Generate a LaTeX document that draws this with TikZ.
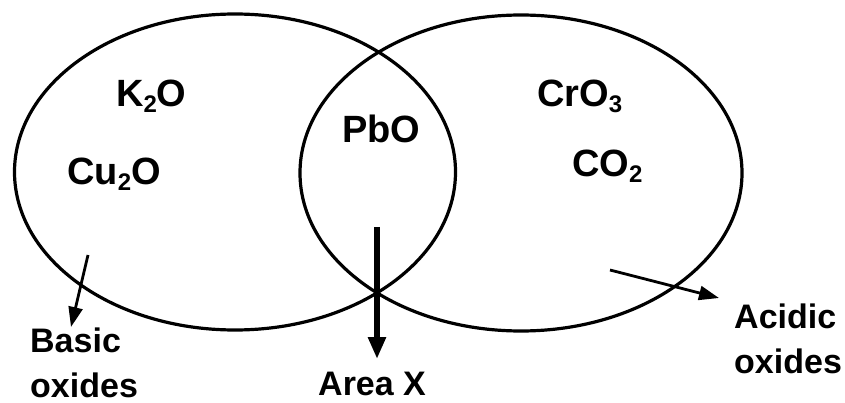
\documentclass[tikz,border=0pt]{standalone}
\usepackage{fontspec}
\setmainfont{Liberation Sans}
\usetikzlibrary{arrows.meta,shapes.geometric}
\newcommand{\chemsub}[1]{\raisebox{-0.25ex}{\fontsize{24}{24}\selectfont #1}}
\tikzset{
  setellipse/.style={ellipse, draw, line width=3.2pt, inner sep=0pt},
  formula/.style={anchor=base west, inner sep=0pt, font=\fontsize{38}{42}\selectfont\bfseries},
  lbl/.style={anchor=base west, inner sep=0pt, align=left, font=\fontsize{34}{45}\selectfont\bfseries},
  thinarr/.style={line width=2.8pt, -{Triangle[length=20pt,width=14pt]}},
  thickarr/.style={line width=6pt, -{Triangle[length=22pt,width=17pt]}},
}
\begin{document}
\begin{tikzpicture}[x=1pt,y=-1pt]
\useasboundingbox (0,0) rectangle (845,403);
\node[setellipse, minimum width=441pt, minimum height=316pt] (basicset) at (235,172) {};
\node[setellipse, minimum width=442pt, minimum height=316pt] (acidset) at (521,173) {};

\node[formula] (k2o) at (116,107) {K\chemsub{2}O};
\node[formula] (cu2o) at (67,185) {Cu\chemsub{2}O};
\node[formula] (pbo) at (342,143) {PbO};
\node[formula] (cro3) at (537,107) {CrO\chemsub{3}};
\node[formula] (co2) at (572,177) {CO\chemsub{2}};

\node[lbl] (basiclbl) at (30,397) {Basic\\oxides};
\node[lbl] (acidlbl) at (734,373) {Acidic\\oxides};
\node[lbl] (arealbl) at (318,395) {Area X};

\coordinate (bstart) at (88,255);
\coordinate (bend) at (71,327);
\coordinate (astart) at (610,270);
\coordinate (aend) at (719,298);
\coordinate (xstart) at (377,227);
\coordinate (xend) at (377,359);

\draw[thinarr] (bstart) -- (bend);
\draw[thinarr] (astart) -- (aend);
\draw[thickarr] (xstart) -- (xend);
\end{tikzpicture}
\end{document}
